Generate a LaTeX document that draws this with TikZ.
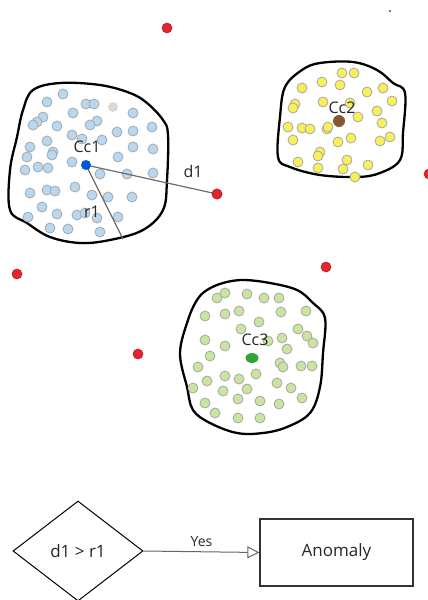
\documentclass[tikz,border=0pt]{standalone}
\usepackage{fontspec}
\setmainfont{Open Sans}
\usepackage{xcolor}
\definecolor{ptBlue}{HTML}{B8D8F2}
\definecolor{ptYellow}{HTML}{F7F05A}
\definecolor{ptGreen}{HTML}{C9E5A0}
\definecolor{ptEdge}{HTML}{A6A6A6}
\definecolor{outlierRed}{HTML}{E3262B}
\definecolor{darkText}{HTML}{262626}
\usetikzlibrary{shapes.geometric, arrows.meta, positioning}
\tikzset{
    % cluster outline
    blob/.style={draw=black, line width=2.3pt, smooth cycle, tension=0.6},
    % data points
    dot/.style={draw=ptEdge, line width=0.8pt},
    outlier/.style={fill=outlierRed, draw=outlierRed!80!black, line width=0.6pt},
    % centroid labels
    tag/.style={font=\fontsize{16}{18}\selectfont, text=darkText, inner sep=1pt},
    % distance lines
    measure/.style={draw=gray!85!black, line width=1.2pt},
    % bottom flow
    decision/.style={diamond, draw=black, line width=1pt, aspect=1.3,
        minimum width=130pt, minimum height=100pt, inner sep=0pt,
        font=\fontsize{17}{19}\selectfont, text=darkText},
    result/.style={rectangle, draw=black!80, line width=1.2pt,
        minimum width=153pt, minimum height=67pt,
        font=\fontsize{17}{19}\selectfont, text=darkText},
    arrow/.style={-{Triangle[open, length=12pt, width=12pt]}, draw=gray!80!black,
        line width=1pt},
}

\begin{document}
\begin{tikzpicture}[x=1pt, y=-1pt]
    \useasboundingbox (0,0) rectangle (428,600);

    % cluster 1
    \draw[blob] plot coordinates {(33,90) (60,83) (100,85) (130,93) (147,103)
        (163,120) (168,135) (167,180) (163,210) (143,230) (110,240) (80,243)
        (50,237) (27,223) (10,210) (10,170) (17,137) (23,110)};
    \foreach \x/\y in {63/94, 47/102, 86/104, 94/104, 133/113, 73/113, 43/117,
        37/122, 33/125, 97/121, 90/125, 57/126, 152/127, 133/131, 117/132,
        72/135, 47/141, 82/139, 102/140, 30/147, 53/152, 52/155, 133/147,
        153/149, 27/157, 118/157, 72/162, 25/170, 38/167, 48/168, 100/174,
        127/174, 153/173, 75/187, 47/190, 55/191, 30/193, 92/195, 108/197,
        132/197, 42/207, 57/214, 77/215, 85/213, 97/218, 118/217, 28/217,
        50/228, 68/229, 100/232}
        \draw[dot, fill=ptBlue] (\x,\y) circle (5);
    \fill[gray!30] (113,107) circle (5);

    % cluster 2
    \draw[blob] plot coordinates {(302,70) (320,63) (353,62) (377,70) (393,83)
        (405,93) (403,133) (400,160) (380,173) (357,177) (320,175) (290,167)
        (278,157) (280,117) (285,87)};
    \foreach \x/\y in {342/73, 354/73, 322/82, 340/85, 302/88, 367/92, 383/88,
        323/102, 350/103, 392/101, 295/104, 293/108, 358/117, 377/111, 288/127,
        302/128, 310/129, 327/129, 328/127, 382/123, 293/140, 338/142, 351/138,
        380/141, 390/137, 320/152, 318/156, 298/162, 347/160, 368/165, 318/168,
        343/169, 355/177}
        \draw[dot, fill=ptYellow] (\x,\y) circle (5);

    % cluster 3
    \draw[blob] plot coordinates {(207,290) (223,283) (243,280) (270,283)
        (297,290) (313,303) (325,318) (323,353) (320,387) (310,413) (287,427)
        (263,433) (237,433) (210,423) (193,410) (187,387) (180,353) (188,320)
        (197,300)};
    \foreach \x/\y in {217/298, 225/293, 247/294, 264/298, 279/298, 205/316,
        225/314, 239/311, 281/312, 306/311, 259/322, 241/329, 298/329, 307/336,
        313/343, 282/338, 287/349, 205/340, 225/346, 268/341, 210/356, 198/367,
        280/363, 283/367, 301/366, 312/366, 256/374, 225/376, 239/379, 207/381,
        277/383, 247/389, 223/391, 193/388, 291/388, 238/399, 260/401, 302/398,
        279/404, 205/403, 215/413, 238/418, 260/418}
        \draw[dot, fill=ptGreen] (\x,\y) circle (5);

    % outliers
    \foreach \x/\y [count=\i] in {167/28, 217/194, 429/174, 17/274, 326/267, 138/354}
        \draw[outlier] (\x,\y) coordinate (out\i) circle (5);
    \fill[gray!60!black] (390,11) circle (1.2);

    % centroids
    \coordinate (c1) at (86,165);
    \coordinate (c3) at (252,358);
    \coordinate (r1end) at (123,239);
    \draw[measure] (c1) -- (out2);
    \draw[measure] (c1) -- (r1end);
    \fill[blue!60!cyan!85!black] (c1) circle (5);
    \fill[brown!70!black] (339,121) coordinate (c2) circle (6);
    \fill[green!55!black!80] (c3) ellipse (6.5 and 5);
    \draw[outlier] (out2) circle (5);

    \node[tag] (cc1) at (87,147) {Cc1};
    \node[tag] (cc2) at (342,108) {Cc2};
    \node[tag] (cc3) at (255,340) {Cc3};
    \node[tag] (d1) at (193,171) {d1};
    \node[tag] (r1) at (92,212) {r1};

    % decision
    \node[decision] (test) at (78,551) {d1 > r1};
    \node[result] (anomaly) at (336.5,552.5) {Anomaly};
    \draw[arrow] (test.east) -- node[above, font=\fontsize{14}{16}\selectfont, text=darkText, yshift=1pt] {Yes} (anomaly.west);
\end{tikzpicture}
\end{document}
